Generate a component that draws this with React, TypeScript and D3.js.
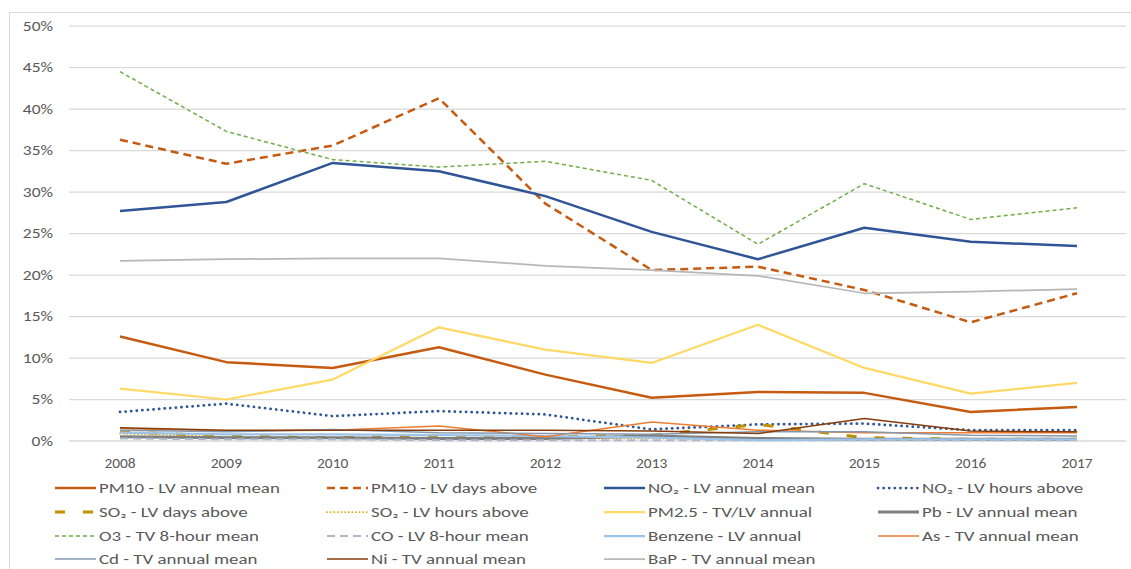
import React from "react";
import * as d3 from "d3";

const years = ["2008", "2009", "2010", "2011", "2012", "2013", "2014", "2015", "2016", "2017"];
const yTicks = [0, 5, 10, 15, 20, 25, 30, 35, 40, 45, 50];

const pm10Annual = [12.6, 9.5, 8.8, 11.3, 8.0, 5.2, 5.9, 5.8, 3.5, 4.1];
const pm10Days = [36.3, 33.4, 35.6, 41.3, 28.6, 20.6, 21.0, 18.2, 14.3, 17.8];
const no2Annual = [27.7, 28.8, 33.5, 32.5, 29.5, 25.2, 21.9, 25.7, 24.0, 23.5];
const no2Hours = [3.5, 4.5, 3.0, 3.6, 3.2, 1.4, 2.0, 2.1, 1.3, 1.3];
const so2Days = [1.1, 0.6, 0.4, 0.5, 0.5, 0.7, 2.0, 0.4, 0.2, 0.2];
const so2Hours = [0.9, 0.5, 0.4, 0.3, 0.3, 0.3, 0.1, 0.1, 0.1, 0.1];
const pm25 = [6.3, 5.0, 7.4, 13.7, 11.0, 9.4, 14.0, 8.8, 5.7, 7.0];
const pb = [0.5, 0.4, 0.4, 0.3, 0.3, 0.6, 0.3, 0.2, 0.2, 0.2];
const o3 = [44.5, 37.3, 33.9, 33.0, 33.7, 31.4, 23.7, 31.0, 26.7, 28.1];
const co = [0.3, 0.2, 0.2, 0.1, 0.1, 0.1, 0.1, 0.1, 0.1, 0.1];
const benzene = [1.0, 0.8, 0.8, 0.7, 0.6, 0.4, 0.1, 0.2, 0.2, 0.2];
const arsenic = [1.5, 1.2, 1.3, 1.8, 0.5, 2.3, 1.3, 1.0, 1.0, 1.0];
const cadmium = [1.3, 1.1, 1.4, 1.0, 0.9, 0.8, 1.1, 1.1, 0.7, 0.6];
const nickel = [1.6, 1.3, 1.3, 1.3, 1.3, 1.2, 0.9, 2.7, 1.2, 1.1];
const bap = [21.7, 21.9, 22.0, 22.0, 21.1, 20.6, 19.9, 17.8, 18.0, 18.3];

const seriesNames = [
  "PM10 - LV annual mean",
  "PM10 - LV days above",
  "NO₂ - LV annual mean",
  "NO₂ - LV hours above",
  "SO₂ - LV days above",
  "SO₂ - LV hours above",
  "PM2.5 - TV/LV annual",
  "Pb - LV annual mean",
  "O3 - TV 8-hour mean",
  "CO - LV 8-hour mean",
  "Benzene - LV annual",
  "As - TV annual mean",
  "Cd - TV annual mean",
  "Ni - TV annual mean",
  "BaP - TV annual mean",
];
const seriesValues = [pm10Annual, pm10Days, no2Annual, no2Hours, so2Days, so2Hours, pm25, pb, o3, co, benzene, arsenic, cadmium, nickel, bap];

type Style = { color: string; width: number; dash?: string; cap?: "round" | "butt" };
const styles: Style[] = [
  { color: "#C55A11", width: 2.5 },
  { color: "#C55A11", width: 2.5, dash: "8,5" },
  { color: "#2F5597", width: 2.5 },
  { color: "#2F5597", width: 2.75, dash: "0.1,5.5", cap: "round" },
  { color: "#BF9000", width: 3, dash: "10,18" },
  { color: "#D9A400", width: 1.75, dash: "0.1,3.5", cap: "round" },
  { color: "#FFD966", width: 2.25 },
  { color: "#7F7F7F", width: 3 },
  { color: "#70AD47", width: 1.5, dash: "4,3" },
  { color: "#ADB9CA", width: 2, dash: "8,5" },
  { color: "#9DC3E6", width: 2.25 },
  { color: "#ED7D31", width: 1.5 },
  { color: "#8497B0", width: 1.5 },
  { color: "#843C0C", width: 1.5 },
  { color: "#B7B7B7", width: 1.75 },
];

const W = 1131;
const H = 569;

export default function App() {
  const x = d3.scalePoint<string>().domain(years).range([120, 1077]);
  const y = d3.scaleLinear().domain([0, 50]).range([441, 26]);
  const line = d3
    .line<number>()
    .x((_, i) => x(years[i]) as number)
    .y((d) => y(d));

  const legendCols = [55, 327, 604, 878];
  const legendRows = [488, 512, 536, 559];
  const font = "Carlito, 'Liberation Sans', Arial, sans-serif";

  return (
    <div style={{ position: "fixed", left: 0, top: 0, width: W, height: H, background: "#fff" }}>
      <svg width={W} height={H} style={{ display: "block" }}>
        <rect x={9.5} y={12.5} width={1300} height={700} fill="#fff" stroke="#D9D9D9" strokeWidth={1} />
        {yTicks.map((t) => (
          <g key={t}>
            <line x1={69} x2={1126} y1={y(t)} y2={y(t)} stroke="#D9D9D9" strokeWidth={t === 0 ? 1.5 : 1.25} />
            <text
              transform={`translate(53,${y(t)}) scale(1.25,1)`}
              dy="0.35em"
              textAnchor="end"
              fontSize={14}
              fill="#595959"
              fontFamily={font}
            >
              {t}%
            </text>
          </g>
        ))}
        {years.map((yr) => (
          <text
            key={yr}
            transform={`translate(${x(yr)},468) scale(1.1,1)`}
            textAnchor="middle"
            fontSize={14}
            fill="#595959"
            fontFamily={font}
          >
            {yr}
          </text>
        ))}
        {seriesValues.map((vals, i) => {
          const s = styles[i];
          return (
            <path
              key={i}
              d={line(vals) || ""}
              fill="none"
              stroke={s.color}
              strokeWidth={s.width}
              strokeDasharray={s.dash}
              strokeLinecap={s.cap || "butt"}
              strokeLinejoin="round"
            />
          );
        })}
        {seriesNames.map((name, i) => {
          const col = i % 4;
          const row = Math.floor(i / 4);
          const lx = legendCols[col];
          const ly = legendRows[row];
          const s = styles[i];
          return (
            <g key={name}>
              <line
                x1={lx}
                x2={lx + 41}
                y1={ly}
                y2={ly}
                stroke={s.color}
                strokeWidth={s.width}
                strokeDasharray={s.dash}
                strokeLinecap={s.cap || "butt"}
              />
              <text
                transform={`translate(${lx + 44},${ly}) scale(1.4,1)`}
                dy="0.35em"
                fontSize={13.5}
                fill="#595959"
                fontFamily={font}
              >
                {name}
              </text>
            </g>
          );
        })}
      </svg>
    </div>
  );
}
